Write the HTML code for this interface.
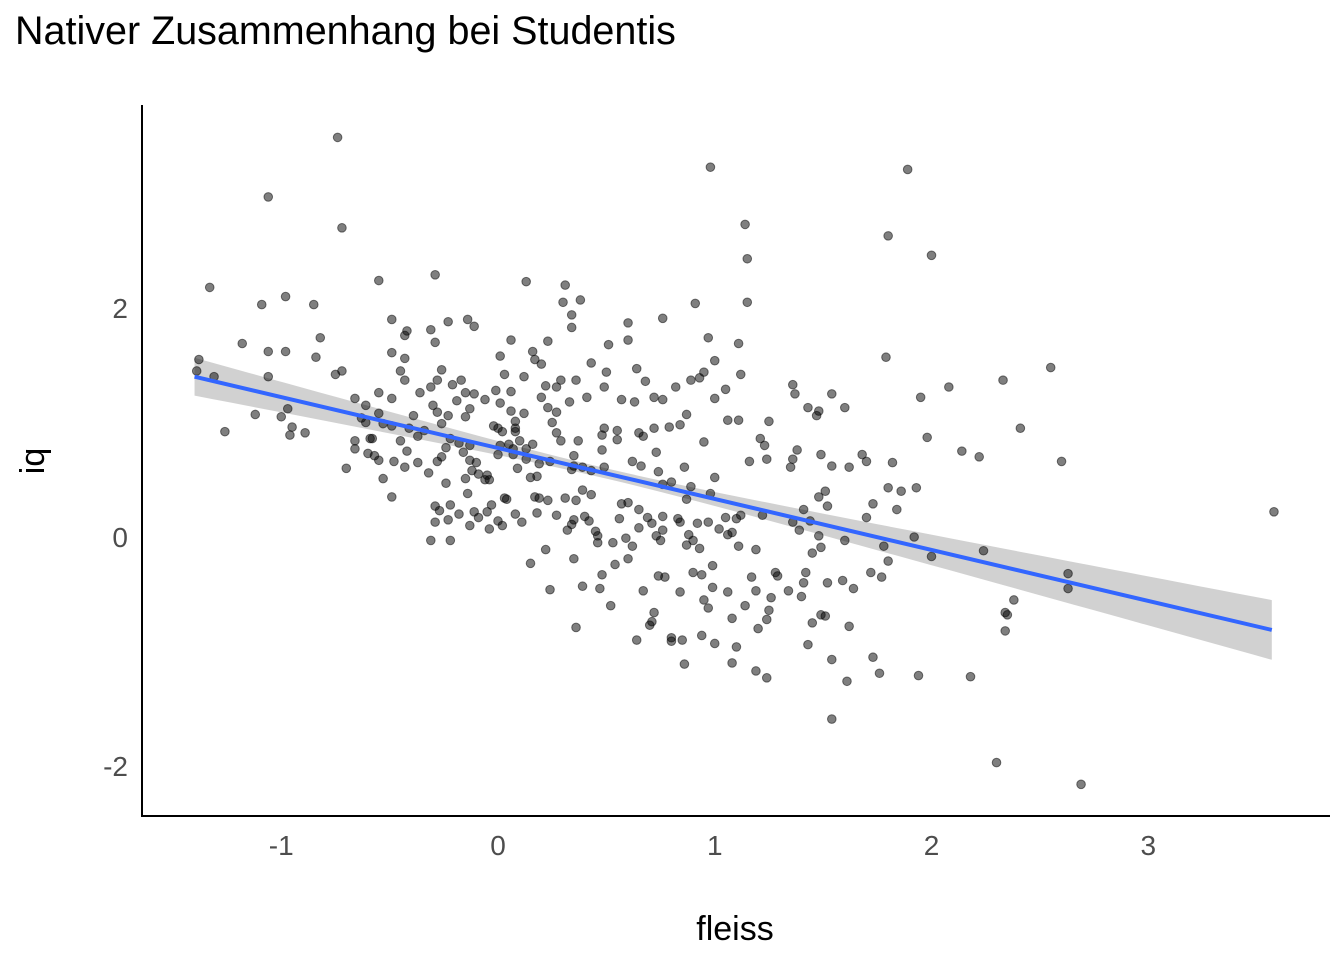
<!DOCTYPE html>
<html><head><meta charset="utf-8"><style>
html,body{margin:0;padding:0;background:#fff;}
svg{display:block;font-family:"Liberation Sans",Arial,sans-serif;}
</style></head><body>
<svg id="chart" width="1344" height="960" viewBox="0 0 1344 960">
<text x="15" y="44" font-size="39.5" fill="#000">Nativer Zusammenhang bei Studentis</text>
<g id="band"></g>
<g id="pts"></g>
<g id="fit"></g>
<line x1="142" y1="105" x2="142" y2="817" stroke="#000" stroke-width="2"/>
<line x1="141" y1="816" x2="1330" y2="816" stroke="#000" stroke-width="2"/>
<g id="xt"></g>
<g id="yt"></g>
<text x="735" y="940" font-size="34" text-anchor="middle" fill="#000">fleiss</text>
<text x="44" y="461" font-size="34" text-anchor="middle" fill="#000" transform="rotate(-90 44 461)">iq</text>
</svg>
<script>
const fleiss=[-0.74,-1.06,-0.72,0.98,1.89,1.14,1.80,2.00,1.15,-1.33,-1.09,-0.98,-0.85,-0.55,-0.29,0.13,0.31,0.38,0.30,0.34,0.34,1.15,0.91,0.60,0.76,-1.18,-1.06,-0.98,-0.82,-0.84,-1.38,-1.39,-1.31,-1.06,-1.26,-1.12,-1.00,-0.97,-0.95,-0.96,-0.89,-0.75,-0.72,-0.70,-0.66,-0.61,-0.66,-0.60,-0.58,-0.55,-0.49,-0.49,-0.49,-0.43,-0.42,-0.43,-0.45,-0.43,-0.39,-0.48,-0.49,-0.53,-0.43,-0.37,-0.31,-0.29,-0.23,-0.14,-0.11,-0.26,-0.31,-0.28,-0.21,-0.17,-0.11,0.01,0.06,0.03,-0.01,0.06,0.12,0.16,0.23,0.17,0.20,0.22,0.29,0.36,0.33,0.41,0.43,0.51,0.60,0.50,0.49,0.57,0.63,0.64,0.68,0.72,0.76,0.82,0.89,0.97,1.00,0.93,0.95,1.00,1.05,1.12,1.11,1.06,1.11,1.16,1.21,1.23,1.24,1.36,1.37,1.43,1.48,1.47,1.54,1.60,1.79,1.95,2.08,1.98,2.14,2.22,2.33,2.41,2.55,2.60,3.58,2.63,2.63,2.38,2.34,2.35,2.34,2.24,2.18,2.30,2.69,1.94,2.00,1.92,1.93,1.86,1.84,1.80,1.82,1.70,1.68,1.73,1.70,1.78,1.77,1.72,1.80,1.73,1.76,1.61,1.54,1.54,1.62,1.64,1.59,1.52,1.49,1.51,1.45,1.43,1.60,1.62,1.54,1.49,1.51,1.48,1.52,1.41,1.44,1.39,1.48,1.45,1.49,1.36,1.38,1.35,1.36,1.25,1.22,1.19,1.28,1.29,1.34,1.42,1.41,1.40,1.26,1.25,1.24,1.20,1.14,1.17,1.19,1.19,1.24,1.08,1.10,1.00,0.94,0.85,0.86,0.80,0.80,0.64,0.72,0.71,0.70,0.52,0.36,0.39,0.47,0.48,0.24,0.35,0.22,0.15,0.67,0.74,0.77,0.84,0.97,0.95,1.06,0.99,1.08,0.90,0.94,0.99,0.90,0.93,1.02,1.05,1.10,1.08,1.12,1.06,1.11,0.98,0.97,0.92,0.88,0.87,0.84,0.83,0.76,0.76,0.75,0.73,0.71,0.69,0.65,0.65,0.62,0.60,0.54,0.59,0.56,0.60,0.57,0.53,0.46,0.46,0.45,0.42,0.43,0.40,0.35,0.34,0.32,0.36,0.39,0.31,0.27,0.23,0.18,0.17,0.19,0.11,0.08,0.04,0.03,0.02,0.00,-0.03,-0.05,-0.11,-0.04,-0.09,-0.13,-0.18,-0.23,-0.29,-0.27,-0.29,-0.22,-0.31,-0.22,-0.24,-0.14,-0.15,-0.12,-0.09,-0.06,-0.05,-0.10,-0.13,-0.16,-0.13,-0.18,-0.22,-0.23,-0.26,-0.24,-0.26,-0.28,-0.34,-0.37,-0.41,-0.45,-0.49,-0.53,-0.55,-0.61,-0.57,-0.55,-0.42,-0.32,-0.04,0.00,0.01,0.05,0.07,0.10,0.13,0.16,0.08,0.08,0.08,0.06,-0.02,0.00,0.02,0.07,0.09,0.13,0.19,0.15,0.18,0.24,0.23,0.27,0.27,0.29,0.25,0.37,0.39,0.35,0.35,0.34,0.43,0.48,0.49,0.48,0.55,0.49,0.55,0.65,0.72,0.73,0.67,0.66,0.62,0.74,0.76,0.79,0.84,0.87,0.86,0.80,0.89,0.87,0.95,1.00,0.27,0.20,0.12,0.01,-0.06,-0.13,-0.15,-0.15,-0.19,-0.28,-0.30,-0.36,-0.63,-0.66,-0.59];
const iq=[3.49,2.97,2.70,3.23,3.21,2.73,2.63,2.46,2.43,2.18,2.03,2.10,2.03,2.24,2.29,2.23,2.20,2.07,2.05,1.94,1.83,2.05,2.04,1.87,1.91,1.69,1.62,1.62,1.74,1.57,1.55,1.45,1.40,1.40,0.92,1.07,1.05,1.12,0.96,0.89,0.91,1.42,1.45,0.60,1.21,1.15,0.77,0.73,0.86,1.26,1.21,1.61,1.90,1.76,1.80,1.56,1.45,1.37,1.06,0.66,0.35,0.51,0.61,0.65,1.81,1.70,1.88,1.90,1.84,1.46,1.31,1.37,1.33,1.37,1.25,1.58,1.72,1.42,1.28,1.27,1.40,1.62,1.71,1.55,1.51,1.32,1.37,1.37,1.18,1.22,1.52,1.68,1.72,1.44,1.31,1.20,1.18,1.47,1.36,1.22,1.20,1.31,1.37,1.74,1.54,1.39,1.44,1.21,1.29,1.42,1.69,1.02,1.02,0.66,0.86,0.80,0.68,1.33,1.25,1.13,1.10,1.06,1.25,1.13,1.57,1.22,1.31,0.87,0.75,0.70,1.37,0.95,1.48,0.66,0.22,-0.32,-0.45,-0.55,-0.66,-0.68,-0.82,-0.12,-1.22,-1.97,-2.16,-1.21,-0.17,0.00,0.43,0.40,0.24,0.43,0.65,0.66,0.72,0.29,0.17,-0.08,-0.35,-0.31,-0.21,-1.05,-1.19,-1.26,-1.59,-1.07,-0.78,-0.45,-0.38,-0.40,-0.68,-0.69,-0.75,-0.94,-0.03,0.61,0.62,0.72,0.40,0.35,0.27,0.24,0.14,0.06,0.01,-0.14,-0.09,0.13,0.76,0.61,0.68,1.01,0.19,-0.11,-0.31,-0.34,-0.47,-0.31,-0.40,-0.52,-0.53,-0.64,-0.72,-0.80,-0.60,-0.35,-0.47,-1.17,-1.23,-1.10,-0.96,-0.93,-0.86,-0.90,-1.11,-0.88,-0.91,-0.90,-0.66,-0.74,-0.77,-0.60,-0.79,-0.43,-0.45,-0.33,-0.46,-0.19,-0.11,-0.23,-0.47,-0.34,-0.35,-0.48,-0.62,-0.55,-0.48,-0.44,-0.71,-0.31,-0.33,-0.25,-0.03,-0.10,0.07,0.17,0.16,0.04,0.19,0.02,-0.08,0.38,0.13,0.12,0.02,-0.07,0.13,0.16,0.06,0.18,-0.03,0.01,0.12,0.17,0.24,0.08,-0.08,-0.19,-0.24,-0.01,0.16,0.30,0.29,-0.05,-0.05,0.01,0.05,0.14,0.37,0.18,0.15,0.11,0.06,0.32,0.41,0.34,0.19,0.32,0.21,0.35,0.34,0.13,0.20,0.33,0.34,0.10,0.14,0.28,0.22,0.22,0.07,0.17,0.10,0.20,0.15,0.13,0.23,0.27,0.28,-0.03,-0.03,0.47,0.38,0.51,0.58,0.55,0.50,0.54,0.65,0.67,0.74,0.80,0.82,0.86,1.06,0.99,0.78,0.70,0.66,0.93,0.88,0.95,0.84,0.97,0.99,1.08,1.00,0.71,0.67,0.75,0.56,0.50,0.72,0.80,0.81,0.77,0.84,0.77,0.81,0.95,0.92,1.01,1.10,0.97,0.95,0.92,0.72,0.60,0.68,0.64,0.52,0.53,0.66,1.13,1.09,0.91,0.84,1.00,0.84,0.61,0.71,0.62,0.59,0.58,0.76,0.95,0.89,0.93,0.61,0.85,0.91,0.95,0.74,0.88,0.62,0.66,0.57,0.46,0.96,0.98,1.07,0.61,0.48,0.44,0.33,0.83,0.52,1.31,1.22,1.08,1.17,1.20,1.12,1.05,1.26,1.19,1.09,1.15,1.26,1.04,0.84,0.86];
const fitCoef=[0.777,-0.445];      // intercept, slope
const bandCoef=[0.002,0.007,0.5];  // variance terms and x-mean for CI
const fitRange=[-1.4,3.57];
const xTicks=[-1,0,1,2,3];
const yTicks=[-2,0,2];

const X=v=>498+v*216.75, Y=v=>537-v*114.5;
const NS='http://www.w3.org/2000/svg';
function mk(tag,attrs,parent){const e=document.createElementNS(NS,tag);for(const k in attrs)e.setAttribute(k,attrs[k]);parent.appendChild(e);return e;}
const fitY=x=>fitCoef[0]+fitCoef[1]*x;
const hw=x=>Math.sqrt(bandCoef[0]+bandCoef[1]*(x-bandCoef[2])**2);
let up=[],lo=[];
for(let i=0;i<=60;i++){const x=fitRange[0]+(fitRange[1]-fitRange[0])*i/60;up.push(X(x)+','+Y(fitY(x)+hw(x)));lo.unshift(X(x)+','+Y(fitY(x)-hw(x)));}
const band=mk('polygon',{points:up.concat(lo).join(' '),fill:'#999',opacity:0.45},document.getElementById('band'));


const pg=document.getElementById('pts');
for(let i=0;i<Math.min(fleiss.length,iq.length);i++){
  const c=mk('circle',{cx:X(fleiss[i]),cy:Y(iq[i]),r:4.3,fill:'#000','fill-opacity':0.5,stroke:'#000','stroke-opacity':0.5,'stroke-width':1},pg);
  
  
}
const ln=mk('line',{x1:X(fitRange[0]),y1:Y(fitY(fitRange[0])),x2:X(fitRange[1]),y2:Y(fitY(fitRange[1])),stroke:'#3366FF','stroke-width':4},document.getElementById('fit'));


const xt=document.getElementById('xt');
xTicks.forEach(t=>{
  const tx=mk('text',{x:X(t),y:855,'font-size':28,'text-anchor':'middle',fill:'#4d4d4d'},xt);tx.textContent=t;
  
  
});
const yt=document.getElementById('yt');
yTicks.forEach(t=>{
  const tx=mk('text',{x:128,y:Y(t)+10,'font-size':28,'text-anchor':'end',fill:'#4d4d4d'},yt);tx.textContent=t;
  
  
});
</script>
</body></html>
